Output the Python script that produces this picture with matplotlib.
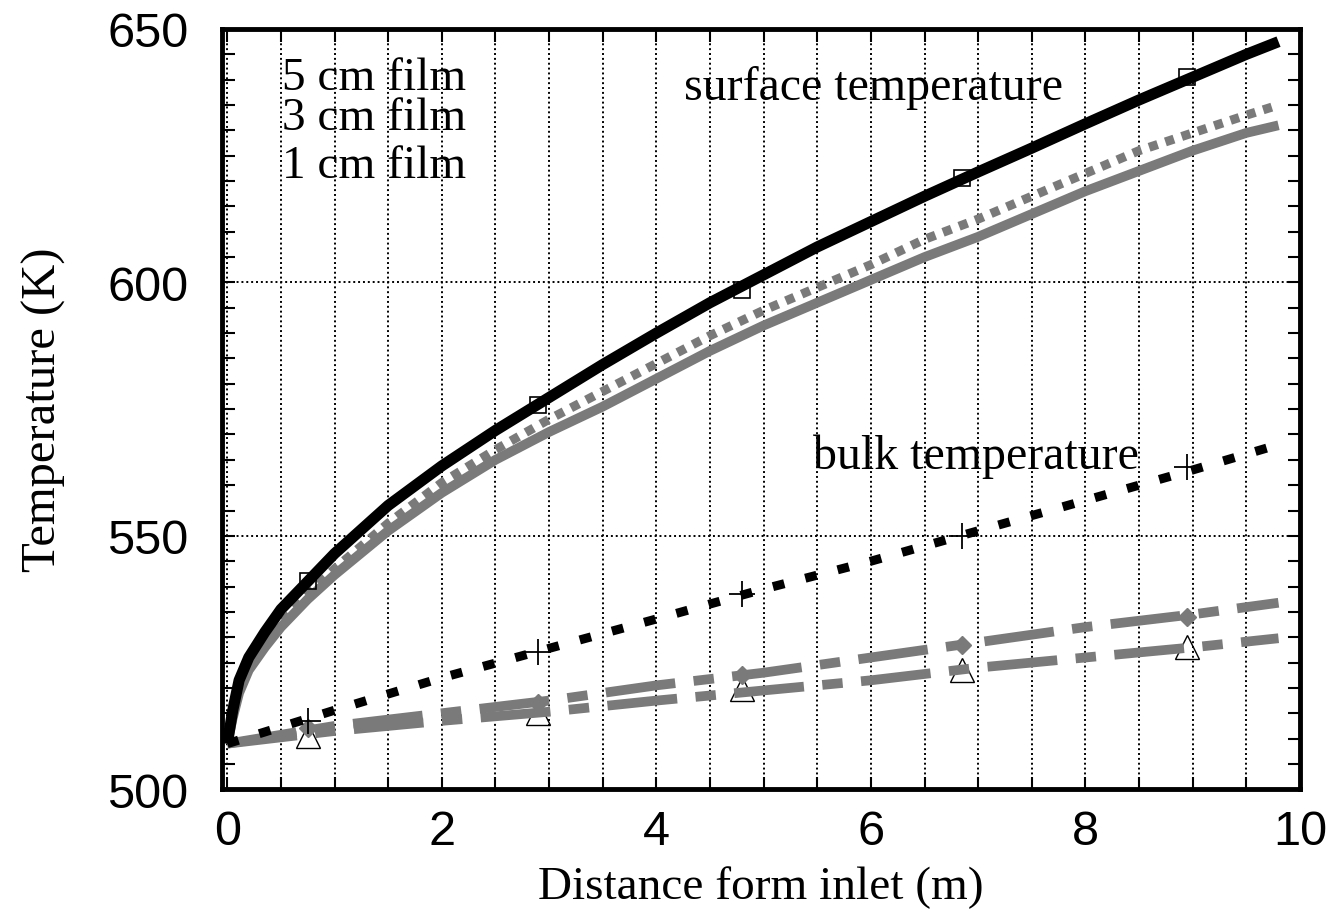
import numpy as np
import matplotlib
matplotlib.use("Agg")
import matplotlib.pyplot as plt
from matplotlib.ticker import MultipleLocator

# surface temperature curves (K) vs distance from inlet (m)
surf_x = [0, 0.05, 0.11, 0.2, 0.35, 0.5, 0.75, 1.0, 1.5, 2.0, 2.5, 3.0, 3.5,
          4.0, 4.5, 5.0, 5.5, 6.0, 6.5, 7.0, 7.5, 8.0, 8.5, 9.0, 9.5, 9.8]
surf_5cm = [509, 515.5, 521.5, 526, 531, 535.5, 541, 546.5, 556, 563.8, 570.8, 577.3, 583.8,
            590, 596, 601.5, 607, 612, 617, 621.8, 626.5, 631.3, 636, 640.5, 645, 647.5]
surf_3cm = [509, 514.5, 519.5, 524, 528.5, 532.5, 538.5, 543.5, 552.5, 560.5, 567, 573, 578.5,
            584, 589.5, 594.5, 599, 603.5, 608.5, 612.5, 617, 621.5, 626, 629.5, 633, 635]
surf_1cm = [509, 514, 519, 523.5, 528, 532, 537.5, 542.3, 551, 558.5, 565, 570.5, 575.5,
            581, 586.5, 591.5, 596, 600.5, 605, 609, 613.5, 618, 622, 626, 629.5, 631]

# bulk temperature curves
bulk_x = [0, 1, 2, 3, 4, 5, 6, 7, 8, 9, 9.8]
bulk_5cm = [509, 515.6, 522, 527.8, 533.6, 539.5, 545, 551, 557, 563, 568]
bulk_1cm = [509, 512.5, 515, 517.5, 520.5, 523, 526, 529, 532, 534.5, 536.8]
bulk_3cm = [509, 511.5, 513.5, 515.3, 517.5, 519.5, 521.5, 524, 526, 528, 529.8]

# symbol positions
mark_x = [0.75, 2.9, 4.8, 6.85, 8.95]
square_y = [541, 575.9, 598.6, 620.6, 640.5]
plus_y = [513.4, 527, 538.5, 550, 563.5]
tri_y = [510.5, 515, 519.8, 523.5, 528]
dia_y = [512, 517, 522.6, 528.5, 534]

SERIF = "Liberation Serif"
SANS = "Liberation Sans"
GRAY = "#7a7a7a"

fig = plt.figure(figsize=(13.37, 9.2), dpi=100)
ax = fig.add_axes([0.166, 0.141, 0.8063, 0.8264])

# surface temperatures
ax.plot(surf_x, surf_1cm, color=GRAY, lw=7, solid_capstyle="butt", zorder=2)
ax.plot(surf_x, surf_3cm, color=GRAY, lw=6.5, ls=(0, (1, 0.9)), zorder=2)
ax.plot(surf_x, surf_5cm, color="black", lw=8, solid_capstyle="butt",
        solid_joinstyle="round", zorder=3)
ax.plot(mark_x, square_y, ls="none", marker="s", ms=11, mfc="none", mec="black",
        mew=1.2, zorder=4)

# bulk temperatures
ax.plot(mark_x, tri_y, ls="none", marker="^", ms=17, mfc="white", mec="black",
        mew=1.0, zorder=1.5)
ax.plot(bulk_x, bulk_1cm, color=GRAY, lw=7, ls=(0, (7.2, 1.9, 2.1, 1.9)), zorder=2)
ax.plot(bulk_x, bulk_3cm, color=GRAY, lw=7, ls=(0, (7.2, 1.9, 2.1, 1.9)), zorder=2)
ax.plot(mark_x, dia_y, ls="none", marker="D", ms=9, mfc=GRAY, mec=GRAY, zorder=2.5)
ax.plot(bulk_x, bulk_5cm, color="black", lw=6.5, ls=(0, (1.3, 2.4)), zorder=3)
ax.plot(mark_x, plus_y, ls="none", marker="+", ms=19, mec="black", mew=1.3, zorder=4)

ax.set_xlim(-0.05, 10.0)
ax.set_ylim(500, 650)

ax.xaxis.set_major_locator(MultipleLocator(2))
ax.xaxis.set_minor_locator(MultipleLocator(0.5))
ax.yaxis.set_major_locator(MultipleLocator(50))
ax.yaxis.set_minor_locator(MultipleLocator(5))

ax.grid(True, which="both", axis="x", color="black", lw=1.4, ls=(0, (1, 1.5)), zorder=0.5)
ax.grid(True, which="major", axis="y", color="black", lw=1.4, ls=(0, (1, 1.5)), zorder=0.5)

ax.tick_params(axis="both", which="both", direction="in", top=True, right=True,
               width=1.5, length=9)
ax.tick_params(axis="y", which="major", pad=24)
ax.tick_params(axis="x", which="major", pad=14)
for lab in ax.get_xticklabels() + ax.get_yticklabels():
    lab.set_fontfamily(SANS)
    lab.set_fontsize(35)

for sp in ax.spines.values():
    sp.set_linewidth(3.5)

ax.set_xlabel("Distance form inlet (m)", family=SERIF, fontsize=34, labelpad=8)
ax.set_ylabel("Temperature (K)", family=SERIF, fontsize=35, labelpad=30)

ax.text(0.51, 638.2, "5 cm film", family=SERIF, fontsize=34, va="baseline")
ax.text(0.51, 630.3, "3 cm film", family=SERIF, fontsize=34, va="baseline")
ax.text(0.51, 620.8, "1 cm film", family=SERIF, fontsize=34, va="baseline")
ax.text(4.26, 636.2, "surface temperature", family=SERIF, fontsize=34.5, va="baseline")
ax.text(5.46, 563.4, "bulk temperature", family=SERIF, fontsize=34.5, va="baseline")

fig.savefig("out.png", dpi=100, facecolor="white")
